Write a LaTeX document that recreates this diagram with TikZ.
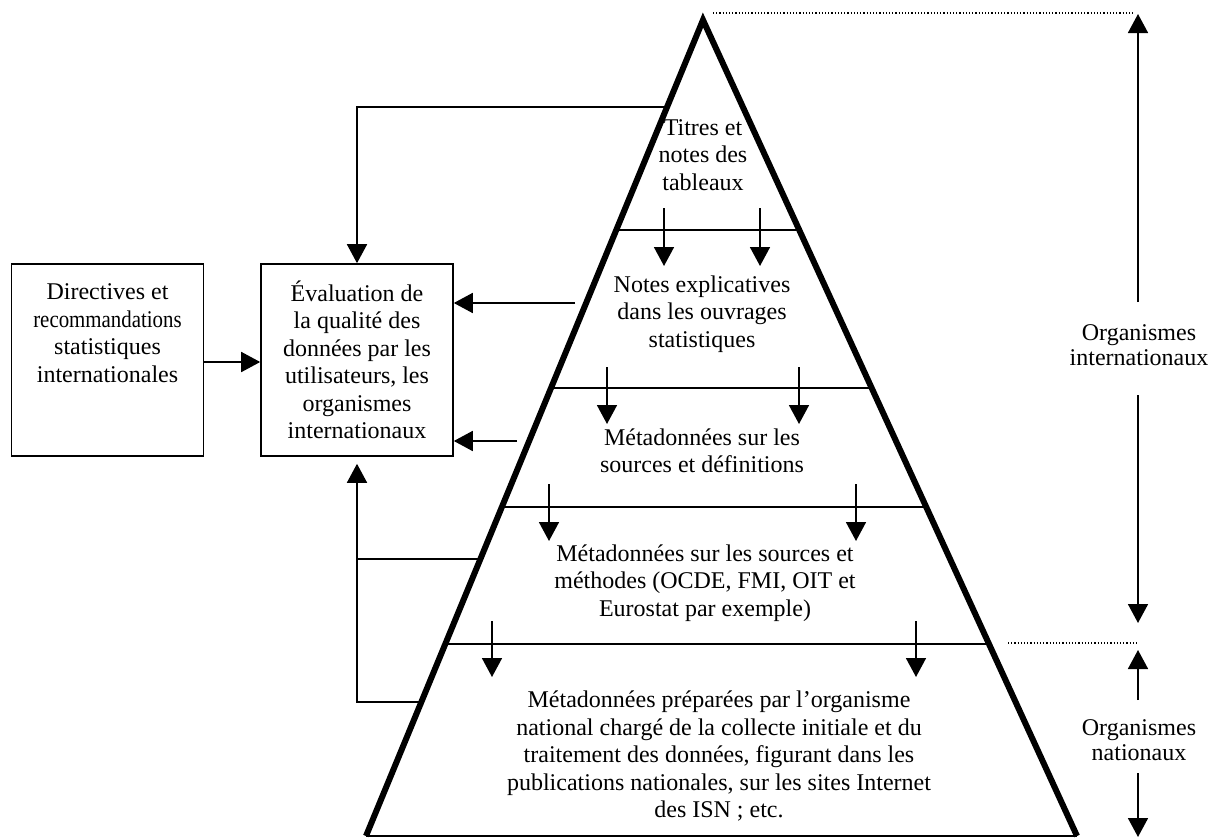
\documentclass[tikz,border=0pt]{standalone}
\usepackage{fontspec}
\usepackage{graphicx}
\setmainfont{Liberation Serif}
\usetikzlibrary{arrows.meta,calc}
\begin{document}
\begin{tikzpicture}[x=1pt,y=-1pt,
  txt/.style={font=\fontsize{24}{27.5}\selectfont, align=center, inner sep=0pt},
  sidetxt/.style={font=\fontsize{24}{25}\selectfont, align=center, inner sep=0pt},
  boxnode/.style={draw, line width=1.6pt, minimum width=192pt, minimum height=192pt, inner sep=0pt},
  thinline/.style={line width=1.6pt},
  sideline/.style={line width=6pt},
  arr/.style={line width=1.7pt, -{Triangle[width=20pt,length=19pt]}},
  dotline/.style={line width=1.2pt, dash pattern=on 1.2pt off 2pt}]
\useasboundingbox (0,0) rectangle (1211,838);

% pyramid corners
\coordinate (A) at (703,20);
\coordinate (BL) at (366,836);
\coordinate (BR) at (1077,836);

% section boundaries
\foreach \t [count=\i] in {0.2574,0.4510,0.5968,0.7647}{
  \coordinate (L\i) at ($(A)!\t!(BL)$);
  \coordinate (R\i) at ($(A)!\t!(BR)$);
}
\draw[thinline] (L1) -- (R1);
\draw[thinline] (L2) -- (R2);
\draw[thinline] (L3) -- (R3);
\draw[thinline] (L4) -- (R4);
\draw[thinline] (BL) -- (BR);
\draw[sideline] (BL) -- (A) -- (BR);

% section texts
\node[txt] (t1) at (703,155) {Titres et\\notes des\\tableaux};
\node[txt] (t2) at (702,314) {Notes explicatives\\dans les ouvrages\\statistiques};
\node[txt] (t3) at (702,451) {Métadonnées sur les\\sources et définitions};
\node[txt] (t4) at (705,583) {Métadonnées sur les sources et\\méthodes (OCDE, FMI, OIT et\\Eurostat par exemple)};
\node[txt] (t5) at (719,756) {Métadonnées préparées par l’organisme\\national chargé de la collecte initiale et du\\traitement des données, figurant dans les\\publications nationales, sur les sites Internet\\des ISN ; etc.};

% downward arrows between sections
\foreach \x/\ya/\yb in {664/208/266, 760/208/266, 607/367/424, 799/367/424,
                        549/484/541, 856/484/541, 492/621/677, 916/621/677}{
  \draw[arr] (\x,\ya) -- (\x,\yb);
}

% left boxes
\node[boxnode] (dir) at (107.5,360) {};
\node[txt] (dirtxt) at (107.5,333) {Directives et\\\scalebox{0.87}[1]{recommandations}\\statistiques\\internationales};
\node[boxnode, txt] (eval) at (357,360)
  {Évaluation de\\la qualité des\\données par les\\utilisateurs, les\\organismes\\internationaux};

\coordinate (ya) at (0,362);
\draw[arr] (dir.east |- ya) -- (eval.west |- ya);

% feedback connectors
\coordinate (F1) at ($(A)!0.1066!(BL)$);
\draw[arr] (F1) -| (eval.north);
\coordinate (F2) at (575,303);
\draw[arr] (F2) -- (F2 -| eval.east);
\coordinate (F3) at (517,441);
\draw[arr] (F3) -- (F3 -| eval.east);
\coordinate (F4) at ($(A)!0.6605!(BL)$);
\coordinate (F5) at ($(A)!0.8358!(BL)$);
\draw[thinline] (F4) -- (F4 -| eval.south);
\draw[arr] (F5) -| ([yshift=-7pt]eval.south);

% right side scale
\coordinate (dt1) at (713,13);
\coordinate (dt2) at (1135,13);
\draw[dotline] (dt1) -- (dt2);
\coordinate (dm1) at (1008,643);
\coordinate (dm2) at (1138,643);
\draw[dotline] (dm1) -- (dm2);

\node[sidetxt] (oi) at (1139,345) {Organismes\\internationaux};
\node[sidetxt] (on) at (1139,740) {Organismes\\nationaux};
\coordinate (oiU) at (1138,302);
\coordinate (oiUt) at (1138,14);
\coordinate (oiD) at (1138,395);
\coordinate (oiDt) at (1138,623);
\coordinate (onU) at (1138,700);
\coordinate (onUt) at (1138,650);
\coordinate (onD) at (1138,773);
\coordinate (onDt) at (1138,837);
\draw[arr] (oiU) -- (oiUt);
\draw[arr] (oiD) -- (oiDt);
\draw[arr] (onU) -- (onUt);
\draw[arr] (onD) -- (onDt);
\end{tikzpicture}
\end{document}
